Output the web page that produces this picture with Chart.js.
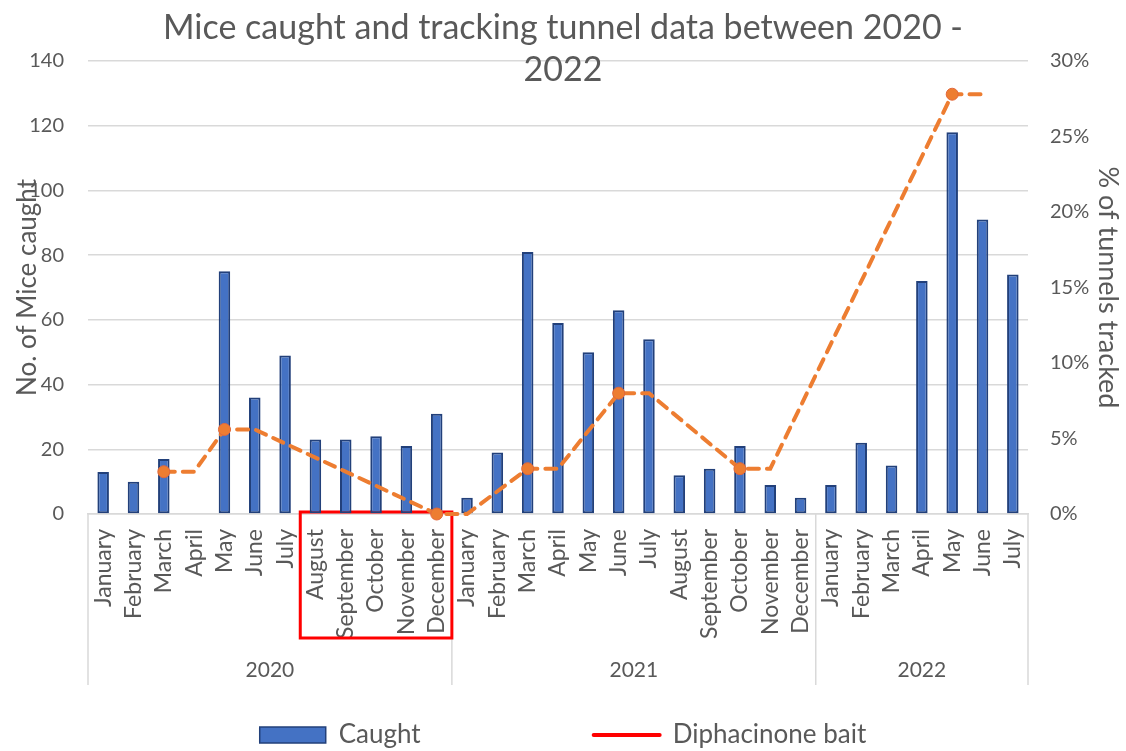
<!DOCTYPE html>
<html>
<head>
<meta charset="utf-8">
<script src="https://cdn.jsdelivr.net/npm/chart.js@4.4.1/dist/chart.umd.min.js"></script>
<style>
  html, body { margin: 0; padding: 0; background: #ffffff; }
  #wrap { width: 1126px; height: 751px; position: relative; }
</style>
</head>
<body>
<div id="wrap"><canvas id="c"></canvas></div>
<script>
// ---------- data ----------
const monthLabels = [
  'January','February','March','April','May','June','July','August','September','October','November','December',
  'January','February','March','April','May','June','July','August','September','October','November','December',
  'January','February','March','April','May','June','July'
];
const years = ['2020', '2021', '2022'];
const yearMonthCounts = [12, 12, 7];
const caught = [
  13, 10, 17, null, 75, 36, 49, 23, 23, 24, 21, 31,
  5, 19, 81, 59, 50, 63, 54, 12, 14, 21, 9, 5,
  9, 22, 15, 72, 118, 91, 74
];
const tracked = [
  null, null, 2.8, 2.8, 5.6, 5.6, null, null, null, null, null, 0,
  0, null, 3, 3, null, 8, 8, null, null, 3, 3, null,
  null, null, null, null, 27.8, 27.8, null
];
const baitFirstIndex = 7;   // August 2020
const baitLastIndex = 11;   // December 2020
const titleLines = ['Mice caught and tracking tunnel data between 2020 -', '2022'];

// ---------- styles ----------
const FONT = 'Lato, "Open Sans", sans-serif';
const TXT = '#595959';
const GRID = '#d9d9d9';

function slotOf(x) { return x.getPixelForValue(1) - x.getPixelForValue(0); }

const groupPlugin = {
  id: 'groupPlugin',
  beforeDatasetsDraw(chart) {
    const { ctx, chartArea, scales } = chart;
    const x = scales.x;
    const slot = slotOf(x);
    const bottomLine = 685;
    ctx.save();
    // year separators
    let start = 0;
    const bounds = [0];
    yearMonthCounts.forEach(n => { start += n; bounds.push(start); });
    ctx.strokeStyle = GRID;
    ctx.lineWidth = 1.5;
    bounds.forEach(b => {
      const px = x.getPixelForValue(b) - slot / 2;
      ctx.beginPath();
      ctx.moveTo(px, chartArea.bottom);
      ctx.lineTo(px, bottomLine);
      ctx.stroke();
    });
    // year labels
    ctx.fillStyle = TXT;
    ctx.font = '21px ' + FONT;
    ctx.textAlign = 'center';
    ctx.textBaseline = 'middle';
    years.forEach((yr, i) => {
      const a = x.getPixelForValue(bounds[i]) - slot / 2;
      const b = x.getPixelForValue(bounds[i + 1]) - slot / 2;
      ctx.fillText(yr, (a + b) / 2, 670);
    });
    // bait annotation box
    const l = x.getPixelForValue(baitFirstIndex) - slot / 2;
    const r = x.getPixelForValue(baitLastIndex) + slot / 2;
    ctx.strokeStyle = '#FF0000';
    ctx.lineWidth = 3;
    ctx.strokeRect(l, chartArea.bottom - 2, r - l, 638 - chartArea.bottom + 2);
    ctx.restore();
  }
};

new Chart(document.getElementById('c'), {
  data: {
    labels: monthLabels,
    datasets: [
      {
        type: 'line',
        label: 'Tracked',
        data: tracked,
        yAxisID: 'y1',
        order: 0,
        clip: false,
        borderColor: '#ED7D31',
        borderWidth: 4,
        borderDash: [11, 8],
        borderCapStyle: 'round',
        spanGaps: true,
        tension: 0,
        pointBackgroundColor: '#ED7D31',
        pointBorderColor: '#E2683C',
        pointBorderWidth: 1,
        pointRadius: ctx => {
          const i = ctx.dataIndex;
          const v = tracked[i];
          if (v === null) return 0;
          return (i === 0 || tracked[i - 1] !== v) ? 6 : 0;
        },
        pointHoverRadius: 0
      },
      {
        type: 'bar',
        label: 'Caught',
        data: caught,
        yAxisID: 'y',
        order: 1,
        backgroundColor: '#4472C4',
        borderColor: '#22407A',
        borderWidth: 2,
        borderSkipped: false,
        categoryPercentage: 1,
        barPercentage: 0.38
      }
    ]
  },
  options: {
    responsive: true,
    maintainAspectRatio: false,
    animation: false,
    layout: { padding: 0 },
    plugins: {
      title: {
        display: true,
        text: titleLines,
        color: TXT,
        font: { family: FONT, size: 34, weight: 'normal', lineHeight: '42px' },
        padding: { top: 7, bottom: -30 }
      },
      legend: {
        position: 'bottom',
        maxHeight: 76,
        labels: {
          usePointStyle: true,
          pointStyleWidth: 66,
          boxHeight: 16,
          padding: 47,
          color: TXT,
          font: { family: FONT, size: 26 },
          generateLabels: () => [
            { text: 'Caught', fillStyle: '#4472C4', strokeStyle: '#22407A', lineWidth: 1.5, pointStyle: 'rect', fontColor: TXT, hidden: false, datasetIndex: 1 },
            { text: '', fillStyle: 'rgba(0,0,0,0)', strokeStyle: 'rgba(0,0,0,0)', lineWidth: 0, pointStyle: 'rect', fontColor: TXT, hidden: false },
            { text: 'Diphacinone bait', fillStyle: '#FF0000', strokeStyle: '#FF0000', lineWidth: 4, lineCap: 'round', pointStyle: 'line', fontColor: TXT, hidden: false }
          ]
        },
        onClick: () => {}
      },
      tooltip: { enabled: false }
    },
    scales: {
      x: {
        type: 'category',
        grid: { display: false, drawTicks: false },
        border: { display: true, color: GRID, width: 1.5 },
        ticks: {
          autoSkip: false,
          maxRotation: 90,
          minRotation: 90,
          padding: 15,
          color: TXT,
          font: { family: FONT, size: 23 }
        },
        afterFit: s => { s.height = 161; }
      },
      y: {
        position: 'left',
        min: 0,
        max: 140,
        grid: { color: GRID, lineWidth: 1.5, drawTicks: false },
        border: { display: false },
        ticks: { stepSize: 20, padding: 24, color: TXT, font: { family: FONT, size: 20 } },
        title: {
          display: true,
          text: 'No. of Mice caught',
          color: TXT,
          font: { family: FONT, size: 26, lineHeight: 1.2 },
          padding: { top: 12, bottom: 0 }
        },
        afterFit: s => { s.width = 88; }
      },
      y1: {
        position: 'right',
        min: 0,
        max: 30,
        grid: { display: false, drawTicks: false },
        border: { display: false },
        ticks: { stepSize: 5, padding: 22, color: TXT, font: { family: FONT, size: 20 }, callback: v => v + '%' },
        title: {
          display: true,
          text: '% of tunnels tracked',
          color: TXT,
          font: { family: FONT, size: 27, lineHeight: 1.2 },
          padding: { top: 2, bottom: 0 }
        },
        afterFit: s => { s.width = 98; }
      }
    }
  },
  plugins: [groupPlugin]
});
</script>
</body>
</html>
